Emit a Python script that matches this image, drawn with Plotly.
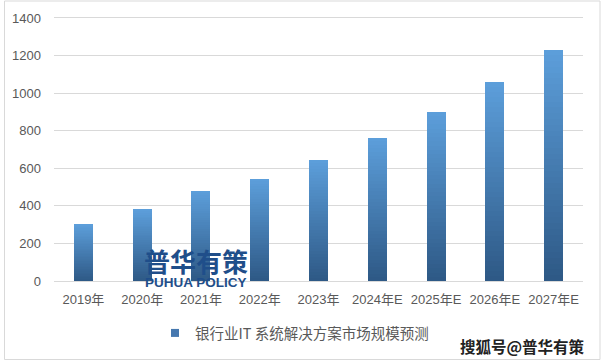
import plotly.graph_objects as go

categories = ["2019年", "2020年", "2021年", "2022年", "2023年", "2024年E", "2025年E", "2026年E", "2027年E"]
values = [305, 384, 480, 544, 645, 763, 901, 1058, 1232]
series_name = "银行业IT 系统解决方案市场规模预测"
y_ticks = [0, 200, 400, 600, 800, 1000, 1200, 1400]

N = 40
dark = (46, 89, 134)
light = (92, 158, 218)

fig = go.Figure()
for i in range(N):
    t = i / (N - 1)
    c = tuple(round(dark[k] + (light[k] - dark[k]) * t) for k in range(3))
    col = "rgb(%d,%d,%d)" % c
    fig.add_trace(go.Bar(
        x=categories,
        y=[v / N for v in values],
        marker=dict(color=col, line=dict(width=0)),
        name=series_name,
        legendgroup="s",
        showlegend=False,
        hoverinfo="skip",
    ))
# legend entry for the series (gradient bars shown as one series)
fig.add_trace(go.Scatter(
    x=[None], y=[None], mode="markers", name=series_name, legendgroup="s",
    marker=dict(symbol="square", size=8, color="rgb(70,120,175)"),
    showlegend=True, hoverinfo="skip",
))

font_fam = "Liberation Sans, Noto Sans CJK SC, sans-serif"

# plot area: x 54..583, y 18..281
L, R, T, B = 54, 18, 18, 80
W, H = 601, 361
pw, ph = W - L - R, H - T - B

def px(xp):
    return (xp - L) / pw

def py(yp):
    return (H - B - yp) / ph

fig.update_layout(
    width=W, height=H,
    margin=dict(l=L, r=R, t=T, b=B),
    paper_bgcolor="white",
    plot_bgcolor="white",
    barmode="stack",
    bargap=0.677,
    font=dict(family=font_fam, size=13, color="#595959"),
    xaxis=dict(
        showgrid=False, showline=True, mirror=True, linecolor="#d9d9d9", linewidth=1,
        ticks="", tickfont=dict(size=13, color="#595959"),
        ticklabelstandoff=6, automargin=False,
    ),
    yaxis=dict(
        range=[0, 1400], tickvals=y_ticks, showgrid=True, gridcolor="#d9d9d9",
        gridwidth=1, zeroline=False, showline=False, ticks="",
        tickfont=dict(size=13, color="#595959"), ticklabelstandoff=12,
        automargin=False,
    ),
    legend=dict(
        orientation="h", xref="container", yref="container",
        x=155 / W, xanchor="left", y=1 - 333 / H, yanchor="middle",
        font=dict(size=14.5, color="#595959", family="Noto Sans CJK SC, sans-serif"),
        itemwidth=30,
        bgcolor="rgba(0,0,0,0)",
    ),
    shapes=[dict(
        type="rect", xref="paper", yref="paper",
        x0=px(4.5), x1=px(600), y0=py(359.5), y1=py(1),
        line=dict(color="#d9d9d9", width=1), fillcolor="rgba(0,0,0,0)",
        layer="below",
    )],
    annotations=[
        dict(text="<b>普华有策</b>", xref="paper", yref="paper",
             x=px(196), y=py(260), xanchor="center", yanchor="middle",
             showarrow=False,
             font=dict(size=26, color="#1f4e8a", family="Noto Sans CJK SC, sans-serif")),
        dict(text="<b>PUHUA POLICY</b>", xref="paper", yref="paper",
             x=px(196), y=py(282), xanchor="center", yanchor="middle",
             showarrow=False,
             font=dict(size=13.5, color="#1f4e8a", family="Liberation Sans, sans-serif")),
        dict(text="<b>搜狐号@普华有策</b>", xref="paper", yref="paper",
             x=px(587), y=py(346), xanchor="right", yanchor="middle",
             showarrow=False,
             font=dict(size=15.5, color="#222222", family="Noto Sans CJK SC, sans-serif")),
    ],
)

fig.write_html("out.html", config={"displayModeBar": False},
               post_script="document.body.style.margin='0';document.body.style.padding='0';")
